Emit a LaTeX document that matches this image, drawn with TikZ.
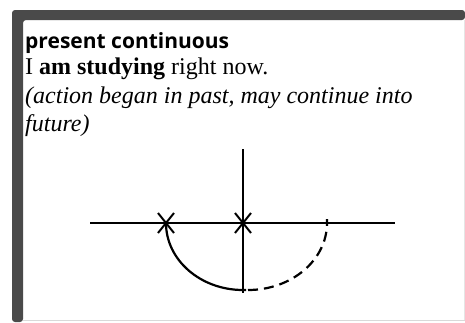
\documentclass[tikz,border=0pt]{standalone}
\usepackage{fontspec}
\setmainfont{Liberation Serif}
\newfontfamily\headfont{Open Sans}
\definecolor{framegray}{HTML}{4A4A4A}
\tikzset{
  txt/.style={anchor=base west, inner sep=0pt},
  timeline/.style={line width=2.2pt},
}

\begin{document}
\begin{tikzpicture}[x=1pt,y=-1pt]
\useasboundingbox (0,0) rectangle (465,322);

% Frame
\fill[white] (12,10) rectangle (465,322);
\fill[framegray, rounded corners=3pt] (12,322) -- (12,10) -- (465,10) -- (465,20) -- (23,20) -- (23,322) -- cycle;
\draw[black!15, line width=1pt] (23,320) -- (465,320);
\draw[black!10, line width=0.6pt] (464,20) -- (464,320);

% Texts
\node[txt] (title) at (25,48) {\headfont\bfseries\fontsize{21}{24}\selectfont present continuous};
\node[txt] (example) at (25,74) {\fontsize{24}{28}\selectfont I \textbf{am studying} right now.};
\node[txt] (note1) at (25,103) {\fontsize{24}{28}\selectfont\itshape (action began in past, may continue into};
\node[txt] (note2) at (25,131) {\fontsize{24}{28}\selectfont\itshape future)};

% Points on the time line
\coordinate (past) at (166,223);
\coordinate (now) at (243,223);
\coordinate (future) at (327,223);

% Axes
\draw[timeline] (90,223) -- (395,223);
\draw[timeline] (243,149) -- (243,293);

% Crosses
\foreach \p in {past, now}
{
    \draw[line width=2pt] (\p) ++(-8,-10) -- ++(16,20) (\p) ++(8,-10) -- ++(-16,20);
}

% Action so far and to come
\draw[timeline] (past) arc[start angle=180, end angle=90, x radius=77, y radius=67] -- ++(3,0);
\draw[timeline, dashed, dash pattern=on 10pt off 6pt] (248,290) arc[start angle=90, end angle=0, x radius=79, y radius=67] -- ++(0,-4);

\end{tikzpicture}
\end{document}
